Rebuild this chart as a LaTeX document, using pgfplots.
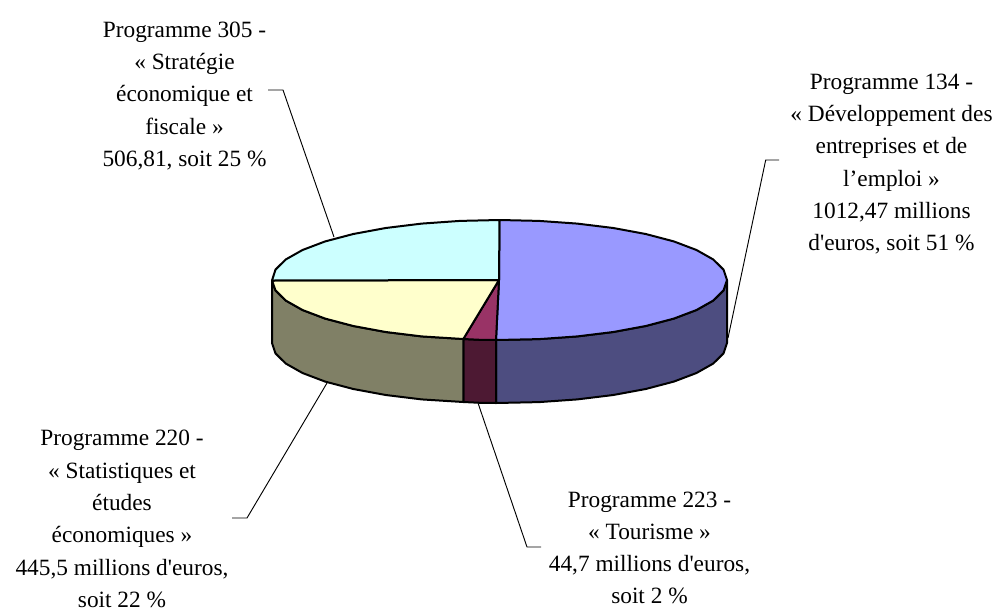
\documentclass[border=0pt]{standalone}
\usepackage{pgfplots}
\pgfplotsset{compat=1.18}
\usepackage{fontspec}
\newfontfamily\lf{Liberation Serif}
\definecolor{cBlue}{HTML}{9999FF}
\definecolor{cBlueD}{HTML}{4D4D80}
\definecolor{cMag}{HTML}{993366}
\definecolor{cMagD}{HTML}{4D1933}
\definecolor{cYel}{HTML}{FFFFCC}
\definecolor{cYelD}{HTML}{808066}
\definecolor{cCyan}{HTML}{CCFFFF}
\begin{document}
\begin{tikzpicture}[lbl/.style={overlay,align=center,inner sep=0pt,font=\lf\fontsize{17.5}{24.2}\selectfont,text=black}]
\begin{axis}[
  scale only axis, width=751.5pt, height=455.25pt,
  xmin=0, xmax=1002, ymin=0, ymax=607, y dir=reverse,
  hide axis, clip=false,
  every axis plot/.append style={line join=round},
]
\path (axis cs:0,0) rectangle (axis cs:1002,607);
% sides
\addplot[draw=black,line width=1.5pt,fill=cBlueD] coordinates {(727,280)(727,343)(723.5,353.4)(713.3,363.5)(696.5,373)(673.8,381.6)(645.7,389)(613.25,395)(577.3,399.4)(539,402.1)(496,403)(496,340)(539,339.1)(577.3,336.4)(613.25,332)(645.7,326)(673.8,318.6)(696.5,310)(713.3,300.5)(723.5,290.4)(727,280)};
\addplot[draw=black,line width=1.5pt,fill=cMagD] coordinates {(463.3,339)(463.3,402)(480,402.8)(496,403)(496,340)(480,339.8)(463.3,339)};
\addplot[draw=black,line width=1.5pt,fill=cYelD] coordinates {(272,280)(272,343)(275.5,353.4)(285.7,363.5)(302.5,373)(325.2,381.6)(353.3,389)(385.75,395)(421.7,399.4)(463.3,402)(463.3,339)(421.7,336.4)(385.75,332)(353.3,326)(325.2,318.6)(302.5,310)(285.7,300.5)(275.5,290.4)(272,280)};
% top slices
\addplot[draw=black,line width=1.5pt,fill=cBlue] coordinates {(499,280)(499.5,220)(539,220.9)(577.3,223.6)(613.25,228)(645.7,234)(673.8,241.4)(696.5,250)(713.3,259.5)(723.5,269.6)(727,280)(723.5,290.4)(713.3,300.5)(696.5,310)(673.8,318.6)(645.7,326)(613.25,332)(577.3,336.4)(539,339.1)(496,340)(499,280)};
\addplot[draw=black,line width=1.5pt,fill=cMag] coordinates {(499,280)(496,340)(480,339.8)(463.3,339)(499,280)};
\addplot[draw=black,line width=1.5pt,fill=cYel] coordinates {(499,280)(463.3,339)(421.7,336.4)(385.75,332)(353.3,326)(325.2,318.6)(302.5,310)(285.7,300.5)(275.5,290.4)(272,280.5)(499,280)};
\addplot[draw=black,line width=1.5pt,fill=cCyan] coordinates {(499,280)(272,280.5)(275.5,269.6)(285.7,259.5)(302.5,250)(325.2,241.4)(353.3,234)(385.75,228)(421.7,223.6)(460,220.9)(499.5,220)(499,280)};
% leader lines
\addplot[draw=black,line width=0.7pt] coordinates {(268,90)(283,90)(334,237)};
\addplot[draw=black,line width=0.7pt] coordinates {(779,160)(765.7,160)(728,338)};
\addplot[draw=black,line width=0.7pt] coordinates {(327,383)(247,518)(232,518)};
\addplot[draw=black,line width=0.7pt] coordinates {(478,403)(527,547)(541,547)};
% labels
\node[lbl] at (axis cs:184.5,96) {Programme 305 -\\« Stratégie\\économique et\\fiscale »\\506,81, soit 25 \%};
\node[lbl] at (axis cs:891.5,164) {Programme 134 -\\« Développement des\\entreprises et de\\l’emploi »\\1012,47 millions\\d'euros, soit 51 \%};
\node[lbl] at (axis cs:122,519) {Programme 220 -\\« Statistiques et\\études\\économiques »\\445,5 millions d'euros,\\soit 22 \%};
\node[lbl] at (axis cs:649.5,548) {Programme 223 -\\« Tourisme »\\44,7 millions d'euros,\\soit 2 \%};
\end{axis}
\end{tikzpicture}
\end{document}
